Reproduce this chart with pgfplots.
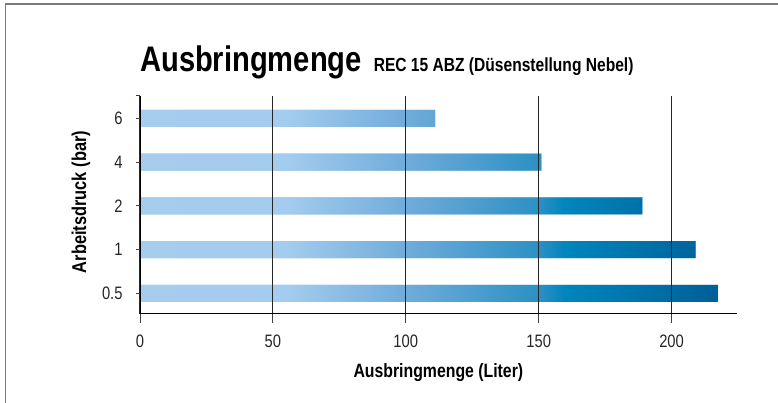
\documentclass[border=0pt]{standalone}
\usepackage{fontspec}
\setmainfont{Liberation Sans}[FakeStretch=0.82]
\usepackage{pgfplots}
\pgfplotsset{compat=1.18}
\definecolor{g0}{HTML}{A6CCEE}
\definecolor{g1}{HTML}{A4CCEE}
\definecolor{g2}{HTML}{70ACDA}
\definecolor{g3}{HTML}{2C90C4}
\definecolor{g4}{HTML}{0085BC}
\definecolor{g5}{HTML}{005F97}
\definecolor{framegray}{HTML}{7A7A7A}
\pgfdeclarehorizontalshading{bargrad}{100bp}{color(0bp)=(g0); color(25bp)=(g0); color(37.6bp)=(g1); color(48bp)=(g2); color(59.5bp)=(g3); color(61.8bp)=(g4); color(75bp)=(g5); color(100bp)=(g5)}
\begin{document}
\begin{tikzpicture}
\useasboundingbox (0,0) rectangle (778pt,403pt);
\draw[framegray, line width=1.5pt] (5.5pt,0) -- (5.5pt,399pt) -- (778pt,399pt);
\begin{axis}[
  at={(140pt,89pt)}, anchor=south west,
  scale only axis, width=596.7pt, height=218pt,
  xmin=0, xmax=224.5, ymin=-0.47, ymax=4.51,
  axis x line*=bottom, axis y line*=left,
  axis on top,
  xtick={0,50,100,150,200},
  ytick={0,1,2,3,4}, yticklabels={0.5,1,2,4,6},
  extra y ticks={4.51}, extra y tick labels={},
  xmajorgrids, grid style={black!85, line width=1.1pt},
  axis line style={black, line width=1pt},
  tick style={black!75, line width=1pt},
  tick align=outside,
  xtick style={/pgfplots/major tick length=9pt},
  ytick style={/pgfplots/major tick length=4pt},
  extra y tick style={/pgfplots/major tick length=4pt},
  /pgf/number format/assume math mode=true,
  tick label style={font=\fontsize{18}{20}\selectfont, text=black!85},
  xticklabel style={anchor=base, inner sep=0pt, yshift=-29pt},
  yticklabel style={anchor=east, inner sep=0pt, xshift=-13pt},
  xlabel={\fontsize{19.3}{22}\selectfont\bfseries Ausbringmenge (Liter)},
  ylabel={\fontsize{20}{22}\selectfont\bfseries Arbeitsdruck (bar)},
  xlabel style={at={([yshift=-63.3pt]axis description cs:0.5,0)}, anchor=base, inner sep=0pt},
  ylabel style={at={([xshift=-54pt,yshift=3pt]axis description cs:0,0.5)}, anchor=base, inner sep=0pt},
  title={{\fontsize{35.5}{38}\selectfont\bfseries Ausbringmenge}\hspace{12pt}{\fontsize{19}{22}\selectfont\bfseries REC 15 ABZ (Düsenstellung Nebel)}},
  title style={at={([yshift=18.5pt]axis description cs:0,1)}, anchor=base west, inner sep=0pt},
]
\addplot[xbar, bar width=17pt, bar shift=0pt, draw=none, fill=g0,
  path picture={\fill[path picture={}, shading=bargrad] (axis cs:0,-1) rectangle (axis cs:217.5,5);}]
  coordinates {(217.5,0) (209,1) (189,2) (151,3) (111,4)};
\end{axis}
\end{tikzpicture}
\end{document}
